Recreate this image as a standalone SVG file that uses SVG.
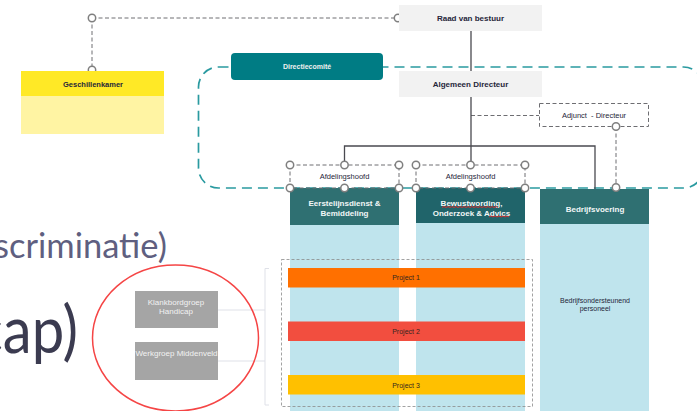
<svg xmlns="http://www.w3.org/2000/svg" width="697" height="411" viewBox="0 0 697 411">
<style>
text{font-family:"Liberation Sans",Arial,sans-serif;text-anchor:middle}
.t7{font-size:7px;fill:#26263a}
.af{font-size:7.500px;fill:#26263a}
.b7{font-size:8px;font-weight:bold;fill:#26263a}
.hd{font-size:8px;font-weight:bold;fill:#f2f7f7}
.w{font-size:7px;font-weight:bold;fill:#f0f0f0}
.g{font-size:8px;fill:#f2f2f2}
.p{font-size:7px;fill:#33261f}
.big{font-family:"Lato",sans-serif;text-anchor:end}
.dk{fill:none;stroke:#6e6e72;stroke-width:1;stroke-dasharray:4 2.500}
.sol{fill:none;stroke:#4a4a50;stroke-width:1.300}
.h{fill:#fff;stroke:#7f7f7f;stroke-width:1.500}
.lt{fill:none;stroke:#dfe1e8;stroke-width:1}
.sq{fill:none;stroke:#e82828;stroke-width:.9}
</style>
<rect width="697" height="411" fill="#fff"/>
<g id="background-text">
<text class="big" x="167" y="258" font-size="34.500" fill="#5f5f80">scriminatie)</text>
<text class="big" transform="translate(78 353) scale(.88 1)" x="0" y="0" font-size="66" fill="#3b3b50">cap)</text>
</g>
<g id="committee-frame"><rect x="198.500" y="67" width="505" height="121" rx="20" fill="none" stroke="#2a9aa0" stroke-width="1.700" stroke-dasharray="10 6"/></g>
<g id="col1"><rect x="290" y="225" width="109" height="186" fill="#bfe4ed"/><rect x="290" y="188" width="109" height="37" fill="#2f7072"/><text class="hd"><tspan x="344.500" y="206">Eerstelijnsdienst &amp;</tspan><tspan x="344.500" y="215.500">Bemiddeling</tspan></text></g>
<g id="col2"><rect x="416" y="223" width="109" height="188" fill="#bfe4ed"/><rect x="416" y="188" width="109" height="35" fill="#20646a"/><text class="hd"><tspan x="471.500" y="206">Bewustwording,</tspan><tspan x="471.500" y="215.500">Onderzoek &amp; Advics</tspan></text><path class="sq" d="M442 207.500l2-1 2 1 2-1 2 1 2-1 2 1 2-1 2 1 2-1 2 1 2-1 2 1 2-1 2 1 2-1 2 1 2-1 2 1 2-1 2 1 2-1 2 1 2-1 2 1 2-1 2 1 2-1 2 1M489 217l2-1 2 1 2-1 2 1 2-1 2 1 2-1 2 1 2-1 2 1"/></g>
<g id="col3"><rect x="540" y="224" width="109" height="187" fill="#bfe4ed"/><rect x="540" y="189" width="109" height="35" fill="#2f7072"/><text class="hd" x="595" y="212">Bedrijfsvoering</text><text class="t7"><tspan x="595" y="303">Bedrijfsondersteunend</tspan><tspan x="595" y="311">personeel</tspan></text></g>
<g id="connectors">
<path class="dk" d="M92 18H399M92 18V70M471 115.500H539M616 127V188"/>
<path class="sol" d="M471 31V71M471 97V165M344.500 165V146H595V189"/>
<path class="lt" d="M218 310H265M218 361H265M269 268.500H265V405H269"/>
<circle class="h" cx="92" cy="18" r="3.700"/><circle class="h" cx="92" cy="70" r="3.700"/><circle class="h" cx="398" cy="18" r="3.700"/>
</g>
<g id="raad"><rect x="399" y="5" width="143" height="26" fill="#f2f2f2"/><text class="b7" x="470.500" y="21">Raad van bestuur</text></g>
<g id="algemeen"><rect x="399" y="71" width="143" height="26" fill="#f2f2f2"/><text class="b7" x="470.500" y="87">Algemeen Directeur</text></g>
<g id="directiecomite"><rect x="231" y="53" width="152" height="27" rx="4" fill="#007c84"/><text class="w" x="307" y="69">Directiecomité</text></g>
<g id="geschillenkamer"><rect x="21" y="71" width="143" height="25" fill="#ffe926"/><rect x="21" y="96" width="143" height="38" fill="#fff4a3"/><text class="b7" style="font-size:7.500px" x="93" y="87">Geschillenkamer</text></g>
<g id="adjunct"><rect x="539.500" y="103.500" width="109" height="23" fill="#fff" class="dk"/><text class="af" style="white-space:pre" x="594" y="118">Adjunct  - Directeur</text><circle class="h" cx="616" cy="126.500" r="3.700"/><circle class="h" cx="616" cy="187.500" r="3.700"/></g>
<g id="afd1"><rect x="290" y="165" width="109" height="23" fill="#fff" class="dk"/><text class="af" x="344.500" y="179">Afdelingshoofd</text><circle class="h" cx="290" cy="165" r="3.700"/><circle class="h" cx="344.500" cy="165" r="3.700"/><circle class="h" cx="399" cy="165" r="3.700"/><circle class="h" cx="290" cy="188" r="3.700"/><circle class="h" cx="344.500" cy="188" r="3.700"/><circle class="h" cx="399" cy="188" r="3.700"/></g>
<g id="afd2"><rect x="416" y="165" width="109" height="23" fill="#fff" class="dk"/><text class="af" x="470.500" y="179">Afdelingshoofd</text><circle class="h" cx="416" cy="165" r="3.700"/><circle class="h" cx="470.500" cy="165" r="3.700"/><circle class="h" cx="525" cy="165" r="3.700"/><circle class="h" cx="416" cy="188" r="3.700"/><circle class="h" cx="470.500" cy="188" r="3.700"/><circle class="h" cx="525" cy="188" r="3.700"/></g>
<g id="projects"><rect x="281.500" y="259.500" width="251" height="147" fill="none" stroke="#8a8a8a" stroke-width=".8" stroke-dasharray="3 2"/>
<rect x="288" y="268" width="237" height="19.500" fill="#ff7000"/><text class="p" x="406" y="280">Project 1</text>
<rect x="288" y="321.500" width="237" height="19.500" fill="#f24e3f"/><text class="p" x="406" y="334">Project 2</text>
<rect x="288" y="375" width="237" height="19.500" fill="#ffc000"/><text class="p" x="406" y="388">Project 3</text></g>
<g id="klankbord"><rect x="135" y="291" width="83" height="37" fill="#a5a5a5"/><text class="g"><tspan x="176" y="304.500">Klankbordgroep</tspan><tspan x="176" y="314">Handicap</tspan></text></g>
<g id="werkgroep"><rect x="135" y="342" width="83" height="38" fill="#a5a5a5"/><text class="g" x="176.500" y="356">Werkgroep Middenveld</text></g>
<g id="highlight"><ellipse cx="175.500" cy="338" rx="83" ry="73" fill="none" stroke="#f54545" stroke-width="1.500"/></g>
</svg>
